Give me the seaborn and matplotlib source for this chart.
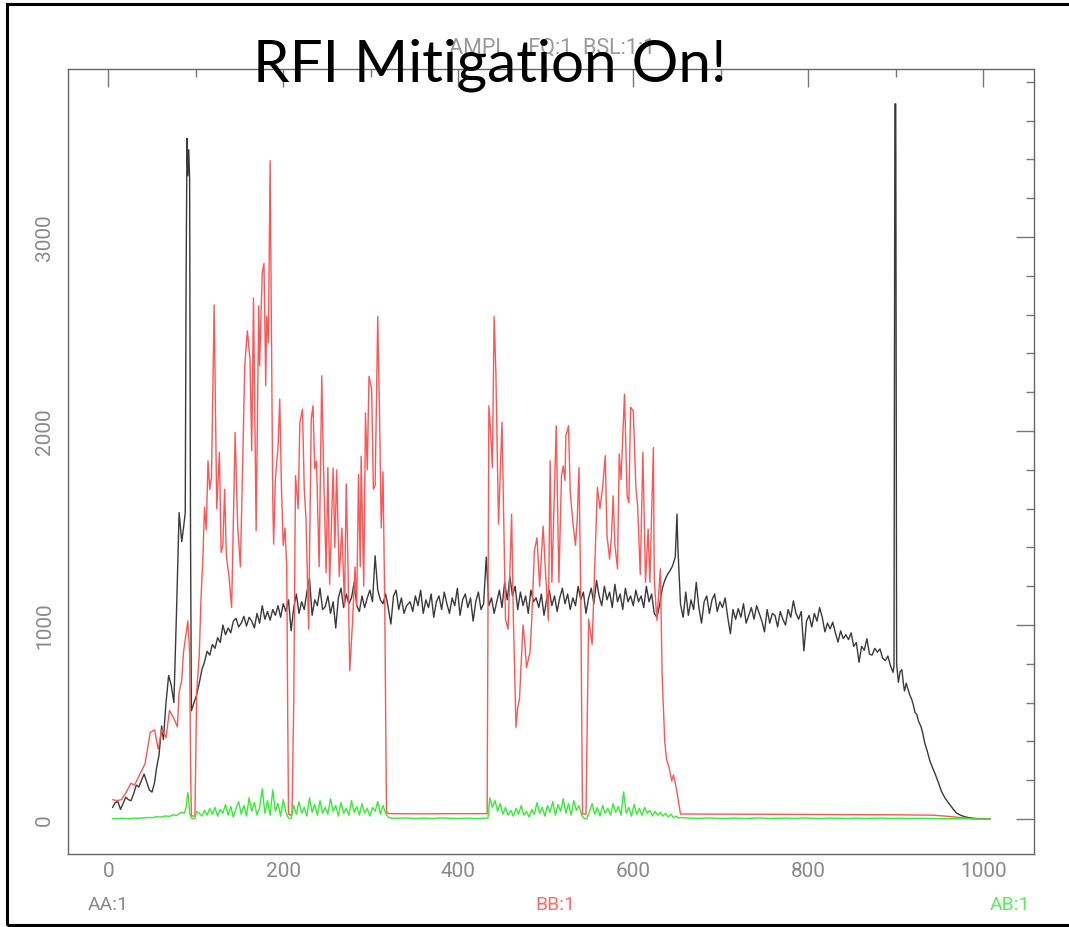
import numpy as np
import pandas as pd
import matplotlib
matplotlib.use("Agg")
import matplotlib.pyplot as plt
from matplotlib.ticker import MultipleLocator
from matplotlib.patches import Rectangle
import seaborn as sns

# ---------------- data ----------------
# AA:1 (black) -- channels and amplitudes
aa_ch_1 = [5, 8, 11, 14, 17, 20, 23, 26, 29, 32, 35, 38, 41, 44, 47, 50, 53, 55, 58, 61,
           63, 66, 69, 72, 75, 78, 81, 84, 86, 88, 89, 90, 91, 92, 93, 94, 95]
aa_val_1 = [60, 85, 90, 50, 80, 113, 100, 95, 130, 175, 165, 200, 232, 190, 150, 139, 190, 258, 330, 480,
            410, 600, 740, 690, 600, 1065, 1580, 1430, 1500, 1580, 2800, 3509, 3316, 3450, 3300, 1500, 558]
aa_ch_2 = list(range(98, 342, 3))
aa_val_2 = [600, 640, 700, 770, 810, 865, 845, 900, 880, 935,
            910, 1000, 950, 985, 960, 1020, 1035, 990, 1010, 1045,
            995, 1040, 1020, 985, 1060, 1010, 1100, 1030, 1070, 1025,
            1080, 1050, 1100, 1040, 1110, 1070, 1130, 970, 1090, 1160,
            1060, 1120, 1080, 1170, 1240, 1050, 1130, 1100, 1190, 1080,
            1095, 1150, 1060, 1120, 985, 1140, 1190, 1090, 1160, 1110,
            1140, 1220, 1100, 1070, 1150, 1090, 1140, 1180, 1120, 1357,
            1180, 1130, 1110, 1160, 1090, 1005, 1150, 1180, 1080, 1140,
            1060, 1100]
aa_ch_3 = list(range(345, 607, 3))
aa_val_3 = [1120, 1070, 1150, 1100, 1180, 1060, 1130, 1090, 1160, 1040,
            1120, 1150, 1080, 1170, 1110, 1060, 1140, 1100, 1190, 1050,
            1130, 1160, 1090, 1140, 1020, 1120, 1170, 1080, 1110, 1350,
            1100, 1140, 1060, 1120, 1180, 1090, 1220, 1130, 1250, 1150,
            1200, 1080, 1170, 1100, 1150, 1060, 1180, 1120, 1140, 1090,
            1160, 1050, 1130, 1180, 1100, 1150, 1070, 1140, 1190, 1110,
            1160, 1080, 1140, 1100, 1200, 1130, 1170, 1060, 1140, 1190,
            1110, 1230, 1150, 1100, 1200, 1130, 1170, 1090, 1210, 1120,
            1160, 1080, 1190, 1120, 1150, 1100, 1180, 1120]
aa_ch_4 = [609, 612, 615, 618, 621, 624, 627, 630, 633, 636, 639, 642, 645, 648, 650, 651, 652, 654, 657, 660]
aa_val_4 = [1150, 1090, 1200, 1120, 1160, 1060, 1040, 1100, 1185, 1230, 1260, 1280, 1306, 1350, 1572, 1400, 1300, 1108, 1040, 1170]
aa_ch_5 = list(range(663, 898, 3))
aa_val_5 = [1050, 1130, 1080, 1220, 1090, 1010, 1120, 1150, 1060, 1130,
            1160, 1070, 1120, 1090, 1140, 1040, 955, 1080, 1030, 1085,
            1040, 1110, 1010, 1050, 1090, 1030, 1100, 1060, 1020, 965,
            1080, 1010, 1060, 1050, 990, 1070, 1030, 1000, 1080, 1040,
            1125, 1060, 1030, 1070, 867, 1020, 1050, 990, 1060, 1020,
            1090, 1040, 965, 1010, 980, 1015, 960, 912, 970, 930,
            950, 925, 960, 890, 910, 808, 890, 870, 930, 850,
            845, 880, 860, 877, 830, 816, 840, 790, 756]
aa_ch_6 = [898, 899, 900, 901, 903, 905, 907, 909, 910, 912, 914, 916, 918, 920, 922, 924, 926, 929, 931,
           933, 936, 939, 942, 945, 949, 952, 956, 960, 965, 969, 974, 979, 984, 989, 995, 1000, 1008]
aa_val_6 = [790, 3686, 3686, 800, 705, 760, 770, 690, 660, 700, 670, 640, 620, 590, 550, 540, 505, 475, 440,
            395, 350, 300, 265, 233, 185, 146, 110, 85, 55, 33, 20, 12, 7, 4, 2, 1, 0]

# BB:1 (red)
bb_ch = [5, 10, 15, 21, 26, 30, 36, 42, 48, 53,
         57, 61, 66, 70, 75, 79, 81, 84, 86, 89,
         91, 93, 94, 95, 97, 99, 100, 101, 104, 106,
         108, 110, 112, 114, 116, 118, 121, 124, 127, 129,
         131, 133, 135, 138, 141, 145, 148, 151, 153, 156,
         159, 162, 164, 166, 169, 172, 173, 176, 178, 179,
         180, 181, 183, 185, 188, 189, 191, 194, 196, 198,
         200, 202, 204, 205, 206, 208, 210, 212, 213, 214,
         217, 219, 222, 224, 226, 229, 232, 234, 236, 238,
         241, 244, 246, 249, 251, 253, 255, 257, 259, 261,
         264, 267, 270, 272, 274, 276, 279, 282, 284, 286,
         288, 289, 292, 294, 296, 298, 301, 303, 305, 308,
         310, 312, 314, 316, 318, 320, 360, 400, 433,
         435, 437, 439, 441, 443, 446, 450, 454, 457, 461,
         463, 466, 468, 470, 474, 476, 478, 482, 484, 487,
         490, 493, 497, 500, 503, 505, 507, 512, 515, 518,
         520, 522, 523, 526, 528, 531, 534, 536, 538, 540,
         542, 546, 549, 553, 557, 559, 562, 565, 568, 570,
         573, 575, 577, 579, 582, 584, 586, 590, 593, 595,
         597, 600, 603, 605, 608, 611, 614, 617, 619, 623,
         624, 627, 631, 633, 636, 638, 641, 644, 646, 649,
         654, 800, 900, 943, 960, 975, 989, 1008]
bb_val = [100, 95, 100, 142, 185, 175, 230, 285, 447, 460,
          360, 460, 420, 560, 520, 475, 655, 715, 860, 960,
          1022, 855, 300, 17, 15, 17, 300, 653, 843, 1135,
          1330, 1607, 1490, 1847, 1700, 1760, 2650, 1600, 1890, 1374,
          1410, 1700, 1357, 1250, 1090, 1993, 1500, 1300, 1700, 2337,
          2517, 2370, 1898, 2686, 1486, 2646, 2337, 2817, 2864, 2540,
          2233, 2590, 2454, 3393, 1650, 1417, 1752, 1916, 2165, 1700,
          1409, 1500, 1300, 600, 26, 20, 26, 600, 1200, 1770,
          1600, 2044, 2113, 1700, 1546, 979, 2062, 2130, 1805, 1845,
          1300, 2285, 1820, 1270, 1812, 1210, 1500, 1810, 1400, 1800,
          1250, 1500, 1100, 1727, 1300, 764, 1000, 1300, 1100, 1777,
          1300, 1870, 1200, 2093, 1800, 2282, 2216, 1700, 1720, 2590,
          2093, 1500, 1790, 1100, 34, 28, 27, 28, 28,
          2130, 2000, 1812, 2590, 2300, 1520, 2045, 1030, 978, 1572,
          1030, 473, 575, 620, 1000, 915, 780, 860, 1024, 1383,
          1450, 1200, 1510, 1250, 1024, 1847, 1220, 2027, 1220, 1770,
          1820, 1745, 1975, 2027, 1685, 1530, 1410, 1545, 1812, 1150,
          26, 26, 1030, 900, 1440, 1710, 1600, 1710, 1873, 1460,
          1340, 1450, 1666, 1416, 1290, 1882, 1750, 2190, 1666, 1630,
          2122, 2105, 1710, 1615, 1260, 1890, 1220, 1495, 1220, 1915,
          1237, 1024, 1290, 740, 400, 310, 265, 196, 228, 165,
          26, 24, 22, 20, 14, 7, 1, 0]

# AB:1 (green)
ab_ch_1 = [5, 10, 15, 20, 25, 30, 35, 40, 45, 50, 55, 60, 65, 70, 75, 78, 81, 84, 87, 89,
           91, 92, 93, 95, 97, 99, 101]
ab_val_1 = [3, 2, 4, 3, 2, 5, 4, 6, 8, 7, 12, 10, 16, 14, 22, 18, 28, 35, 30, 60,
            137, 100, 30, 5, 3, 4, 40]
ab_ch_2 = list(range(104, 318, 3))
ab_val_2 = [30, 15, 45, 20, 55, 25, 60, 15, 50, 30,
            75, 20, 65, 10, 55, 90, 25, 70, 15, 110,
            40, 85, 20, 60, 155, 30, 95, 20, 150, 40,
            80, 15, 100, 35, 5, 3, 70, 25, 90, 30,
            60, 15, 110, 35, 75, 20, 95, 30, 60, 25,
            105, 40, 70, 15, 85, 30, 55, 20, 95, 35,
            65, 20, 80, 30, 55, 15, 60, 40, 90, 25,
            70, 30]
ab_ch_3 = [320, 323, 330, 340, 350, 360, 370, 380, 390, 400, 410, 420, 430, 434]
ab_val_3 = [10, 5, 4, 6, 3, 5, 3, 6, 4, 3, 5, 3, 4, 5]
ab_ch_4 = list(range(436, 653, 3))
ab_val_4 = [110, 60, 95, 40, 80, 25, 60, 20, 45, 15,
            55, 25, 70, 20, 40, 10, 50, 25, 85, 30,
            60, 15, 70, 35, 90, 20, 75, 40, 105, 30,
            80, 20, 95, 45, 70, 20, 2, 3, 40, 80,
            25, 60, 15, 70, 30, 55, 20, 80, 35, 65,
            20, 140, 30, 60, 15, 75, 25, 55, 20, 60,
            30, 45, 15, 40, 20, 35, 15, 30, 10, 25,
            8, 15, 6]
ab_ch_5 = [655, 665, 675, 685, 695, 705, 715, 725, 735, 745, 755, 765, 775, 785, 795, 805, 815, 825,
           835, 845, 855, 865, 875, 885, 895, 905, 915, 925, 935, 945, 955, 965, 975, 985, 995, 1008]
ab_val_5 = [8, 5, 3, 6, 4, 3, 5, 3, 4, 6, 3, 4, 5, 3, 6, 4, 3, 5,
            4, 3, 5, 3, 4, 5, 3, 4, 3, 4, 3, 3, 2, 2, 1, 1, 0, 0]

# tick values / labels
x_ticks = [0, 200, 400, 600, 800, 1000]
y_ticks = [0, 1000, 2000, 3000]
title_text = "RFI Mitigation On!"
header_text = "AMPL    FQ:1  BSL:1:1"
series_labels = ["AA:1", "BB:1", "AB:1"]


def build(chs, vals):
    c = sum(chs, [])
    v = sum(vals, [])
    if len(c) != len(v):
        raise ValueError(f"length mismatch {len(c)} vs {len(v)}")
    return c, v


aa_c, aa_v = build([aa_ch_1, aa_ch_2, aa_ch_3, aa_ch_4, aa_ch_5, aa_ch_6],
                   [aa_val_1, aa_val_2, aa_val_3, aa_val_4, aa_val_5, aa_val_6])
ab_c, ab_v = build([ab_ch_1, ab_ch_2, ab_ch_3, ab_ch_4, ab_ch_5],
                   [ab_val_1, ab_val_2, ab_val_3, ab_val_4, ab_val_5])
if len(bb_ch) != len(bb_val):
    raise ValueError(f"bb mismatch {len(bb_ch)} vs {len(bb_val)}")

df_aa = pd.DataFrame({"ch": aa_c, "amp": aa_v})
df_bb = pd.DataFrame({"ch": bb_ch, "amp": bb_val})
df_ab = pd.DataFrame({"ch": ab_c, "amp": ab_v})

# ---------------- drawing ----------------
sns.set_style("white")
plt.rcParams['font.family'] = ['Roboto', 'DejaVu Sans']

fig = plt.figure(figsize=(10.69, 9.28), dpi=100)
ax = fig.add_axes([68 / 1069, 73 / 928, (1034 - 68) / 1069, (855 - 70) / 928])

c_aa, c_bb, c_ab = "#3a3a3a", "#ff5555", "#33ee33"
sns.lineplot(data=df_aa, x="ch", y="amp", ax=ax, color=c_aa, lw=1.0, sort=False, estimator=None)
sns.lineplot(data=df_bb, x="ch", y="amp", ax=ax, color=c_bb, lw=1.0, sort=False, estimator=None)
sns.lineplot(data=df_ab, x="ch", y="amp", ax=ax, color=c_ab, lw=1.0, sort=False, estimator=None)

ax.set_xlim(-46, 1058)
ax.set_ylim(-180, 3866)
ax.set_xlabel("")
ax.set_ylabel("")
ax.set_xticks(x_ticks)
ax.set_yticks(y_ticks)
ax.xaxis.set_minor_locator(MultipleLocator(100))
ax.yaxis.set_minor_locator(MultipleLocator(200))
ax.tick_params(which="both", direction="in", top=True, right=True, colors="#777777",
               labelcolor="#8a8a8a", labelsize=15)
ax.tick_params(which="major", length=13, width=1)
ax.tick_params(which="minor", length=6, width=1)
ax.tick_params(axis="x", pad=5)
ax.tick_params(axis="y", pad=10)
for lab in ax.get_yticklabels():
    lab.set_rotation(90)
    lab.set_va("center")
for lab in ax.get_xticklabels() + ax.get_yticklabels():
    lab.set_fontweight("normal")
for s in ax.spines.values():
    s.set_color("#666666")
    s.set_linewidth(1.0)

# header (partly hidden behind the big title, as in the original) and big title
fig.text(552 / 1069, 1 - 48 / 928, header_text, ha="center", va="center",
         fontsize=15.5, color="#999999", fontweight="normal")
fig.text(490 / 1069, 1 - 82 / 928, title_text, ha="center", va="baseline",
         fontsize=42, color="black", family=["Lato", "DejaVu Sans"])

# series labels under the axis
fig.text(88 / 1069, 1 - 905 / 928, series_labels[0], ha="left", va="center",
         fontsize=14, color="#8a8a8a")
fig.text(555 / 1069, 1 - 905 / 928, series_labels[1], ha="center", va="center",
         fontsize=14, color="#ff6a6a")
fig.text(1030 / 1069, 1 - 905 / 928, series_labels[2], ha="right", va="center",
         fontsize=14, color="#55f055")

# outer frame
fig.patches.append(Rectangle((7 / 1069, 2 / 928), 1.02, 1 - 7 / 928, transform=fig.transFigure,
                             fill=False, edgecolor="black", lw=2.2, zorder=10))

fig.savefig("out.png", dpi=100)
